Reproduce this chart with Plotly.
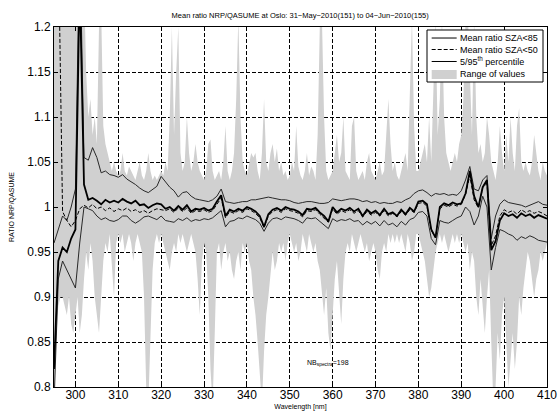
import plotly.graph_objects as go

wavelength = list(range(295, 411))

mean_sza85 = [0.82, 0.94, 0.955, 0.95, 0.965, 0.975, 1.25, 1.025, 1.008, 1.01,
              1.007, 1.003, 1.008, 1.005, 1.007, 1.005, 1.009, 1.006, 1.004, 1.007,
              1.002, 1.003, 0.999, 1.002, 1.004, 1.003, 0.998, 1.0, 0.996, 1.001,
              0.997, 1.002, 0.995, 0.998, 0.997, 0.999, 0.996, 0.998, 1.006, 1.013,
              0.99, 0.997, 0.995, 0.998, 0.996, 1.0, 0.998, 0.995, 0.99, 0.978,
              0.992, 0.997, 0.999, 0.996, 1.0, 0.998, 0.997, 0.995, 0.991, 0.998,
              0.997, 0.999, 0.994, 0.99, 0.984, 1.0, 0.994, 0.998, 0.996, 0.999,
              0.995, 0.998, 0.99, 0.997, 0.993, 0.996, 0.991, 0.998, 0.992, 0.994,
              0.99, 0.997, 0.992, 0.999, 0.995, 1.006, 1.007, 1.003, 0.975, 0.966,
              1.0, 1.004, 1.002, 1.005, 1.003, 1.004, 1.015, 1.04, 1.012, 1.0,
              1.022, 1.03, 0.952, 0.962, 0.985, 0.993, 0.99, 0.992, 0.988, 0.993,
              0.99, 0.992, 0.988, 0.991, 0.989, 0.987]

mean_sza50 = [1.5, 1.3, 0.995, 0.985, 0.978, 0.985, 0.998, 1.002, 0.999, 1.003,
              0.998, 1.0, 0.996, 0.999, 0.995, 0.998, 0.996, 0.999, 0.995, 0.997,
              0.994, 0.996, 0.993, 0.996, 0.998, 0.997, 0.996, 0.998, 0.994, 0.999,
              0.995, 0.999, 0.993, 0.996, 0.995, 0.997, 0.994, 0.996, 1.003, 1.01,
              0.988, 0.995, 0.993, 0.996, 0.994, 0.998, 0.996, 0.993, 0.988, 0.977,
              0.99, 0.995, 0.997, 0.994, 0.998, 0.996, 0.995, 0.993, 0.989, 0.996,
              0.995, 0.997, 0.992, 0.988, 0.983, 0.998, 0.992, 0.996, 0.994, 0.997,
              0.993, 0.996, 0.989, 0.995, 0.991, 0.994, 0.99, 0.996, 0.99, 0.993,
              0.989, 0.995, 0.991, 0.997, 0.994, 1.004, 1.005, 1.001, 0.974, 0.966,
              0.998, 1.002, 1.0, 1.003, 1.001, 1.003, 1.014, 1.035, 1.008, 0.999,
              1.022, 1.026, 0.957, 0.968, 0.99, 0.997, 0.994, 0.996, 0.992, 0.997,
              0.994, 0.996, 0.993, 0.995, 0.993, 0.99]

p95 = [0.96, 0.975, 0.99, 0.985, 1.0, 1.02, 1.3, 1.055, 1.052, 1.066,
       1.055, 1.038, 1.04, 1.036, 1.035, 1.033, 1.036, 1.031, 1.028, 1.025,
       1.021, 1.018, 1.016, 1.02, 1.023, 1.034, 1.028, 1.022, 1.018, 1.011,
       1.016, 1.017, 1.012, 1.009, 1.008, 1.007, 1.006, 1.008, 1.012, 1.02,
       1.006, 1.005, 1.004, 1.005, 1.006, 1.006, 1.008, 1.008, 1.009, 1.01,
       1.011, 1.01, 1.009, 1.008, 1.008, 1.007, 1.005, 1.004, 1.005, 1.006,
       1.006, 1.005, 1.004, 1.004, 1.005, 1.009, 1.008, 1.007, 1.008, 1.009,
       1.009, 1.008, 1.006, 1.007, 1.005, 1.006, 1.004, 1.005, 1.004, 1.004,
       1.006, 1.005, 1.008, 1.01, 1.015, 1.018, 1.019, 1.016, 1.012, 1.015,
       1.014, 1.015, 1.013, 1.014, 1.013, 1.018, 1.03, 1.045, 1.02, 1.018,
       1.03, 1.035, 0.965, 0.99, 1.003, 1.008, 1.005, 1.004, 1.003, 1.002,
       1.0, 1.002, 1.004, 1.006, 1.003, 1.002]

p5 = [0.78, 0.92, 0.94, 0.93, 0.92, 0.91, 0.96, 1.0, 0.998, 0.996,
      0.99, 0.986, 0.988, 0.985, 0.984, 0.986, 0.99, 0.99, 0.985, 0.982,
      0.985, 0.989, 0.99, 0.988, 0.986, 0.99, 0.985, 0.984, 0.983, 0.987,
      0.985, 0.988, 0.984, 0.986, 0.985, 0.987, 0.986, 0.988, 0.992, 0.996,
      0.978, 0.984, 0.985, 0.988, 0.987, 0.99, 0.988, 0.986, 0.982, 0.973,
      0.982, 0.987, 0.988, 0.986, 0.989, 0.988, 0.987, 0.985, 0.982, 0.988,
      0.987, 0.988, 0.984, 0.98, 0.976, 0.987, 0.984, 0.986, 0.985, 0.987,
      0.984, 0.985, 0.98, 0.984, 0.981, 0.984, 0.979, 0.985, 0.98, 0.982,
      0.978, 0.984, 0.98, 0.986, 0.988, 0.994, 0.995, 0.99, 0.965, 0.958,
      0.985, 0.983, 0.982, 0.985, 0.988, 0.99, 1.0, 0.995, 0.98, 0.99,
      1.012, 1.0, 0.93, 0.955, 0.975, 0.973, 0.97, 0.968, 0.963, 0.967,
      0.965, 0.968, 0.966, 0.963, 0.962, 0.961]

# range of values sampled every 0.5 nm
wavelength_fine = [295 + 0.5 * i for i in range(231)]

range_max = [1.25, 1.25, 1.25, 1.25, 1.25, 1.25, 1.25, 1.25, 1.25, 1.25,
             1.25, 1.25, 1.3, 1.3, 1.25, 1.15, 1.1, 1.12, 1.08, 1.1,
             1.07, 1.2, 1.22, 1.09, 1.07, 1.06, 1.05, 1.04, 1.05, 1.04,
             1.035, 1.04, 1.06, 1.04, 1.035, 1.045, 1.04, 1.035, 1.03, 1.04,
             1.05, 1.035, 1.03, 1.04, 1.06, 1.04, 1.03, 1.035, 1.03, 1.035,
             1.04, 1.035, 1.05, 1.04, 1.1, 1.2, 1.08, 1.15, 1.2, 1.06,
             1.04, 1.05, 1.1, 1.06, 1.04, 1.05, 1.07, 1.05, 1.04, 1.035,
             1.03, 1.04, 1.07, 1.075, 1.04, 1.03, 1.035, 1.04, 1.03, 1.05,
             1.09, 1.04, 1.03, 1.04, 1.06, 1.12, 1.21, 1.1, 1.05, 1.04,
             1.035, 1.05, 1.06, 1.055, 1.06, 1.04, 1.03, 1.06, 1.12, 1.05,
             1.04, 1.06, 1.07, 1.05, 1.065, 1.04, 1.05, 1.035, 1.04, 1.03,
             1.035, 1.05, 1.04, 1.09, 1.045, 1.035, 1.03, 1.04, 1.06, 1.035,
             1.045, 1.04, 1.03, 1.08, 1.2, 1.21, 1.1, 1.04, 1.03, 1.035,
             1.04, 1.06, 1.08, 1.05, 1.06, 1.1, 1.04, 1.035, 1.03, 1.09,
             1.1, 1.04, 1.03, 1.035, 1.04, 1.03, 1.05, 1.06, 1.04, 1.035,
             1.03, 1.04, 1.05, 1.035, 1.04, 1.08, 1.12, 1.07, 1.04, 1.05,
             1.035, 1.03, 1.04, 1.05, 1.06, 1.04, 1.12, 1.21, 1.09, 1.04,
             1.04, 1.05, 1.06, 1.07, 1.05, 1.1, 1.05, 1.15, 1.21, 1.08,
             1.12, 1.21, 1.1, 1.06, 1.05, 1.04, 1.05, 1.06, 1.05, 1.07,
             1.08, 1.12, 1.21, 1.22, 1.15, 1.08, 1.21, 1.1, 1.06, 1.07,
             1.05, 1.06, 1.1, 1.08, 1.05, 1.04, 1.03, 1.05, 1.09, 1.06,
             1.04, 1.08, 1.05, 1.1, 1.06, 1.04, 1.09, 1.11, 1.05, 1.04,
             1.05, 1.04, 1.035, 1.05, 1.08, 1.06, 1.04, 1.03, 1.05, 1.04,
             1.035]

range_min = [0.78, 0.85, 0.89, 0.9, 0.9, 0.89, 0.88, 0.9, 0.87, 0.86,
             0.88, 0.9, 0.86, 0.88, 0.92, 0.95, 0.93, 0.96, 0.94, 0.9,
             0.88, 0.86, 0.9, 0.94, 0.96, 0.95, 0.97, 0.94, 0.9, 0.96,
             0.97, 0.96, 0.97, 0.95, 0.96, 0.97, 0.96, 0.94, 0.96, 0.97,
             0.96, 0.95, 0.9, 0.8, 0.78, 0.85, 0.93, 0.96, 0.97, 0.96,
             0.97, 0.96, 0.95, 0.94, 0.93, 0.95, 0.96, 0.95, 0.97, 0.96,
             0.97, 0.96, 0.95, 0.96, 0.97, 0.96, 0.95, 0.92, 0.88, 0.94,
             0.96, 0.95, 0.9, 0.82, 0.78, 0.86, 0.95, 0.96, 0.93, 0.95,
             0.96, 0.94, 0.95, 0.93, 0.92, 0.94, 0.95, 0.93, 0.96, 0.95,
             0.96, 0.94, 0.93, 0.9, 0.88, 0.85, 0.82, 0.78, 0.84, 0.88,
             0.9, 0.93, 0.95, 0.93, 0.94, 0.96, 0.95, 0.96, 0.94, 0.96,
             0.97, 0.96, 0.95, 0.96, 0.94, 0.95, 0.97, 0.96, 0.95, 0.97,
             0.96, 0.95, 0.96, 0.94, 0.93, 0.9, 0.88, 0.91, 0.86, 0.84,
             0.88, 0.92, 0.94, 0.9, 0.87, 0.92, 0.95, 0.96, 0.95, 0.97,
             0.96, 0.95, 0.96, 0.97, 0.96, 0.95, 0.96, 0.94, 0.95, 0.96,
             0.95, 0.93, 0.92, 0.95, 0.96, 0.95, 0.97, 0.96, 0.97, 0.96,
             0.97, 0.96, 0.97, 0.96, 0.95, 0.97, 0.96, 0.94, 0.95, 0.97,
             0.97, 0.96, 0.95, 0.94, 0.92, 0.9, 0.91, 0.93, 0.95, 0.96,
             0.97, 0.96, 0.97, 0.96, 0.95, 0.96, 0.97, 0.96, 0.97, 0.96,
             0.97, 0.96, 0.95, 0.96, 0.93, 0.95, 0.94, 0.9, 0.88, 0.92,
             0.89, 0.86, 0.9, 0.93, 0.85, 0.78, 0.8, 0.86, 0.83, 0.88,
             0.9, 0.84, 0.8, 0.83, 0.86, 0.82, 0.85, 0.9, 0.88, 0.91,
             0.93, 0.95, 0.94, 0.92, 0.9, 0.92, 0.93, 0.95, 0.94, 0.95,
             0.96]

x_ticks = [300, 310, 320, 330, 340, 350, 360, 370, 380, 390, 400, 410]
y_ticks = [0.8, 0.85, 0.9, 0.95, 1.0, 1.05, 1.1, 1.15, 1.2]
y_tick_labels = ["0.8", "0.85", "0.9", "0.95", "1", "1.05", "1.1", "1.15", "1.2"]

legend_labels = ["Mean ratio SZA<85", "Mean ratio SZA<50",
                 "5/95<sup>th</sup> percentile", "Range of values"]

FONT = "Liberation Sans, Arial, sans-serif"
GREY = "rgb(208,208,208)"

fig = go.Figure()

fig.add_trace(go.Scatter(x=wavelength_fine, y=range_min, mode="lines",
                         line=dict(width=0, color=GREY), showlegend=False,
                         hoverinfo="skip"))
fig.add_trace(go.Scatter(x=wavelength_fine, y=range_max, mode="lines",
                         line=dict(width=0, color=GREY), fill="tonexty",
                         fillcolor=GREY, name=legend_labels[3], showlegend=False))
fig.add_trace(go.Scatter(x=wavelength, y=p95, mode="lines",
                         line=dict(width=1, color="rgb(40,40,40)"),
                         name=legend_labels[2], showlegend=False))
fig.add_trace(go.Scatter(x=wavelength, y=p5, mode="lines",
                         line=dict(width=1, color="rgb(40,40,40)"),
                         name=legend_labels[2], showlegend=False))
fig.add_trace(go.Scatter(x=wavelength, y=mean_sza50, mode="lines",
                         line=dict(width=1, color="black", dash="4px,2px"),
                         name=legend_labels[1], showlegend=False))
fig.add_trace(go.Scatter(x=wavelength, y=mean_sza85, mode="lines",
                         line=dict(width=1.8, color="black"),
                         name=legend_labels[0], showlegend=False))

axis_common = dict(showline=True, linecolor="black", linewidth=1, mirror="allticks",
                   ticks="inside", ticklen=4, tickcolor="black",
                   showgrid=True, gridcolor="black", gridwidth=1, griddash="4px,2px",
                   zeroline=False, layer="above traces", automargin=False,
                   tickfont=dict(family=FONT, size=12, color="black"))

fig.update_layout(
    width=559, height=411,
    margin=dict(l=54, r=12, t=27, b=24),
    paper_bgcolor="white", plot_bgcolor="white",
    font=dict(family=FONT, color="black"),
    title=dict(text="Mean ratio NRP/QASUME at Oslo: 31\u2212May\u22122010(151) to 04\u2212Jun\u22122010(155)",
               font=dict(size=7.5, family=FONT, color="black"),
               x=0.537, xanchor="center", y=0.963, yanchor="middle"),
    xaxis=dict(range=[295, 410], tickvals=x_ticks, ticklabelstandoff=-3,
               title=dict(text="Wavelength [nm]", font=dict(size=7, family=FONT), standoff=3),
               **axis_common),
    yaxis=dict(range=[0.8, 1.2], tickvals=y_ticks, ticktext=y_tick_labels,
               title=dict(text="RATIO NRP/QASUME", font=dict(size=7, family=FONT), standoff=11),
               **axis_common),
    showlegend=False,
)

# legend drawn as a box in the MATLAB style
fig.add_shape(type="rect", xref="paper", yref="paper", x0=0.7566, x1=0.9919,
              y0=0.8472, y1=0.9917, line=dict(color="black", width=1),
              fillcolor="white", layer="above")
row_y = [0.9694, 0.9375, 0.9042, 0.8694]
fig.add_shape(type="line", xref="paper", yref="paper", x0=0.7661, x1=0.8168,
              y0=row_y[0], y1=row_y[0], line=dict(color="black", width=1), layer="above")
fig.add_shape(type="line", xref="paper", yref="paper", x0=0.7661, x1=0.8168,
              y0=row_y[1], y1=row_y[1], line=dict(color="black", width=1, dash="4px,2px"),
              layer="above")
fig.add_shape(type="line", xref="paper", yref="paper", x0=0.7661, x1=0.8168,
              y0=row_y[2], y1=row_y[2], line=dict(color="black", width=1), layer="above")
fig.add_shape(type="rect", xref="paper", yref="paper", x0=0.7661, x1=0.8168,
              y0=0.8556, y1=0.8806, line=dict(width=0), fillcolor=GREY, layer="above")
for label, yy in zip(legend_labels, row_y):
    fig.add_annotation(x=0.8185, y=yy, xref="paper", yref="paper", text=label,
                       showarrow=False, xanchor="left", yanchor="middle",
                       font=dict(size=9, family=FONT, color="black"))

fig.add_annotation(x=353.6, y=0.827, xref="x", yref="y",
                   text="NB<sub>spectra</sub>=198", showarrow=False,
                   xanchor="left", yanchor="middle",
                   font=dict(size=7, family=FONT, color="black"))

fig.write_html("out.html")
